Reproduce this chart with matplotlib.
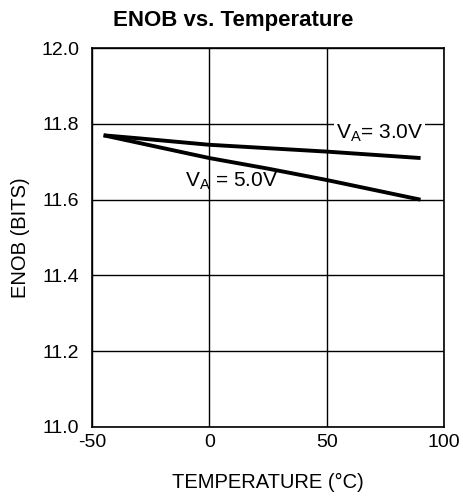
import matplotlib
matplotlib.use("Agg")
import matplotlib.pyplot as plt

plt.rcParams['font.family'] = ['Liberation Sans', 'DejaVu Sans']

temp_3v = [-45, -30, 0, 25, 50, 90]
enob_3v = [11.770, 11.762, 11.745, 11.736, 11.727, 11.710]
temp_5v = [-45, -30, 0, 25, 50, 90]
enob_5v = [11.770, 11.750, 11.710, 11.682, 11.652, 11.600]

xticks = [-50, 0, 50, 100]
yticks = [11.0, 11.2, 11.4, 11.6, 11.8, 12.0]

fig = plt.figure(figsize=(4.64, 4.97), dpi=100)
ax = fig.add_axes([0.198, 0.141, 0.759, 0.762])
ax.set_xlim(-50, 100)
ax.set_ylim(11.0, 12.0)
ax.set_xticks(xticks)
ax.set_yticks(yticks)
ax.set_xticklabels([str(t) for t in xticks], fontsize=14)
ax.set_yticklabels([f"{t:.1f}" for t in yticks], fontsize=14)
ax.tick_params(axis='x', length=0, pad=5)
ax.tick_params(axis='y', length=0, pad=9)
ax.grid(True, color='black', linewidth=1.0)
ax.set_axisbelow(True)
for s in ax.spines.values():
    s.set_linewidth(1.2)

ax.plot(temp_3v, enob_3v, color='black', linewidth=2.8, solid_capstyle='butt')
ax.plot(temp_5v, enob_5v, color='black', linewidth=2.8, solid_capstyle='butt')

ax.text(72.5, 11.776, r"V$_\mathregular{A}$= 3.0V", fontsize=15, ha='center', va='center',
        bbox=dict(facecolor='white', edgecolor='none', pad=1.5))
ax.text(9.5, 11.65, r"V$_\mathregular{A}$ = 5.0V", fontsize=15, ha='center', va='center')

fig.text(0.502, 0.958, "ENOB vs. Temperature", fontsize=16, fontweight='bold',
         ha='center', va='center')
ax.set_xlabel("TEMPERATURE (°C)", fontsize=14.5, labelpad=16)
ax.set_ylabel("ENOB (BITS)", fontsize=14.5, labelpad=8)

fig.savefig("out.png", dpi=100)
